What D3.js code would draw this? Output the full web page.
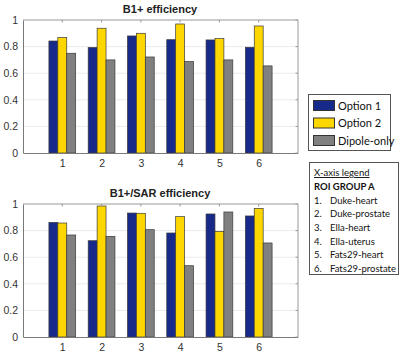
<!DOCTYPE html>
<html>
<head>
<meta charset="utf-8">
<script src="https://cdn.jsdelivr.net/npm/d3@7"></script>
<style>
  body { margin: 0; background: #fff; }
  svg { display: block; }
</style>
</head>
<body>
<svg id="chart" width="400" height="356"></svg>
<script>
// data
const groups = [1, 2, 3, 4, 5, 6];
const seriesNames = ["Option 1", "Option 2", "Dipole-only"];
const seriesColors = ["#172a8a", "#ffd700", "#808080"];
const yTicks = [0, 0.2, 0.4, 0.6, 0.8, 1];

const b1Option1 = [0.842, 0.793, 0.880, 0.852, 0.850, 0.795];
const b1Option2 = [0.868, 0.938, 0.900, 0.970, 0.860, 0.955];
const b1Dipole  = [0.750, 0.700, 0.722, 0.688, 0.700, 0.655];

const sarOption1 = [0.862, 0.724, 0.932, 0.782, 0.925, 0.910];
const sarOption2 = [0.857, 0.985, 0.930, 0.905, 0.794, 0.967];
const sarDipole  = [0.767, 0.757, 0.807, 0.536, 0.940, 0.707];

const roiNames = ["Duke-heart", "Duke-prostate", "Ella-heart", "Ella-uterus", "Fats29-heart", "Fats29-prostate"];

const svg = d3.select("#chart");
const font = "'Liberation Sans', Arial, sans-serif";
const legFont = "Lato, 'Open Sans', sans-serif";

function drawPanel(title, series, top, bottom) {
    const left = 23, right = 298;
    const x = d3.scaleLinear().domain([0, 7]).range([left, right]);
    const y = d3.scaleLinear().domain([0, 1]).range([bottom, top]);
    const g = svg.append("g");

    // grid
    g.selectAll(".grid")
        .data(yTicks.slice(1, -1))
        .join("line")
        .attr("x1", left).attr("x2", right)
        .attr("y1", d => y(d)).attr("y2", d => y(d))
        .attr("stroke", "#ebebeb");

    // bars
    const bw = 0.227;
    series.forEach((vals, s) => {
        g.selectAll(".bar" + s)
            .data(groups)
            .join("rect")
            .attr("x", (d) => x(d + (s - 1.5) * bw))
            .attr("width", x(bw) - x(0))
            .attr("y", (d, i) => y(vals[i]))
            .attr("height", (d, i) => y(0) - y(vals[i]))
            .attr("fill", seriesColors[s])
            .attr("stroke", "#3a3a3a")
            .attr("stroke-width", 0.7);
    });

    // axes
    const xAxis = g.append("g")
        .attr("transform", `translate(0,${bottom})`)
        .call(d3.axisBottom(x).tickValues(groups).tickFormat(d3.format("d")).tickSize(0).tickPadding(7));
    const yAxis = g.append("g")
        .attr("transform", `translate(${left},0)`)
        .call(d3.axisLeft(y).tickValues(yTicks).tickFormat(d3.format("~g")).tickSize(0).tickPadding(5));
    [xAxis, yAxis].forEach(a => {
        a.select(".domain").attr("stroke", "#7a7a7a");
        a.selectAll("text").attr("font-family", font).attr("font-size", 10.5).attr("fill", "#333");
    });

    // box with inward ticks
    g.append("line").attr("x1", left).attr("x2", right).attr("y1", top).attr("y2", top).attr("stroke", "#9a9a9a");
    g.append("line").attr("x1", right).attr("x2", right).attr("y1", top).attr("y2", bottom).attr("stroke", "#9a9a9a");
    g.selectAll(".tt").data(groups).join("line")
        .attr("x1", d => x(d)).attr("x2", d => x(d))
        .attr("y1", top).attr("y2", top + 2.5).attr("stroke", "#9a9a9a");
    g.selectAll(".rt").data(yTicks).join("line")
        .attr("x1", right - 2.5).attr("x2", right)
        .attr("y1", d => y(d)).attr("y2", d => y(d)).attr("stroke", "#9a9a9a");

    g.append("text")
        .attr("x", 160).attr("y", top - 7)
        .attr("text-anchor", "middle")
        .attr("font-family", font).attr("font-size", 11).attr("font-weight", "bold")
        .attr("fill", "#222")
        .text(title);
}

drawPanel("B1+ efficiency", [b1Option1, b1Option2, b1Dipole], 20, 153);
drawPanel("B1+/SAR efficiency", [sarOption1, sarOption2, sarDipole], 204, 337);

// series legend
const leg = svg.append("g");
leg.append("rect").attr("x", 308.5).attr("y", 94.5).attr("width", 82).attr("height", 56)
    .attr("fill", "#fff").attr("stroke", "#555");
seriesNames.forEach((name, i) => {
    const cy = 105.5 + i * 17.5;
    leg.append("rect").attr("x", 313.5).attr("y", cy - 5).attr("width", 21).attr("height", 10)
        .attr("fill", seriesColors[i]).attr("stroke", "#333");
    leg.append("text").attr("x", 338).attr("y", cy + 4)
        .attr("font-family", legFont).attr("font-size", 11).attr("fill", "#111")
        .text(name);
});

// x-axis legend
const xl = svg.append("g");
xl.append("rect").attr("x", 309.5).attr("y", 162.5).attr("width", 89).attr("height", 112)
    .attr("fill", "#fff").attr("stroke", "#555");
xl.append("text").attr("x", 314).attr("y", 176)
    .attr("font-family", legFont).attr("font-size", 9.5).attr("fill", "#111")
    .attr("text-decoration", "underline")
    .text("X-axis legend");
xl.append("text").attr("x", 314).attr("y", 190)
    .attr("font-family", legFont).attr("font-size", 9.5).attr("font-weight", "bold").attr("fill", "#111")
    .text("ROI GROUP A");
roiNames.forEach((name, i) => {
    const yy = 203.5 + i * 13.7;
    xl.append("text").attr("x", 314).attr("y", yy)
        .attr("font-family", legFont).attr("font-size", 9.5).attr("fill", "#111")
        .text(groups[i] + ".");
    xl.append("text").attr("x", 330).attr("y", yy)
        .attr("font-family", legFont).attr("font-size", 9.5).attr("fill", "#111")
        .text(name);
});
</script>
</body>
</html>
